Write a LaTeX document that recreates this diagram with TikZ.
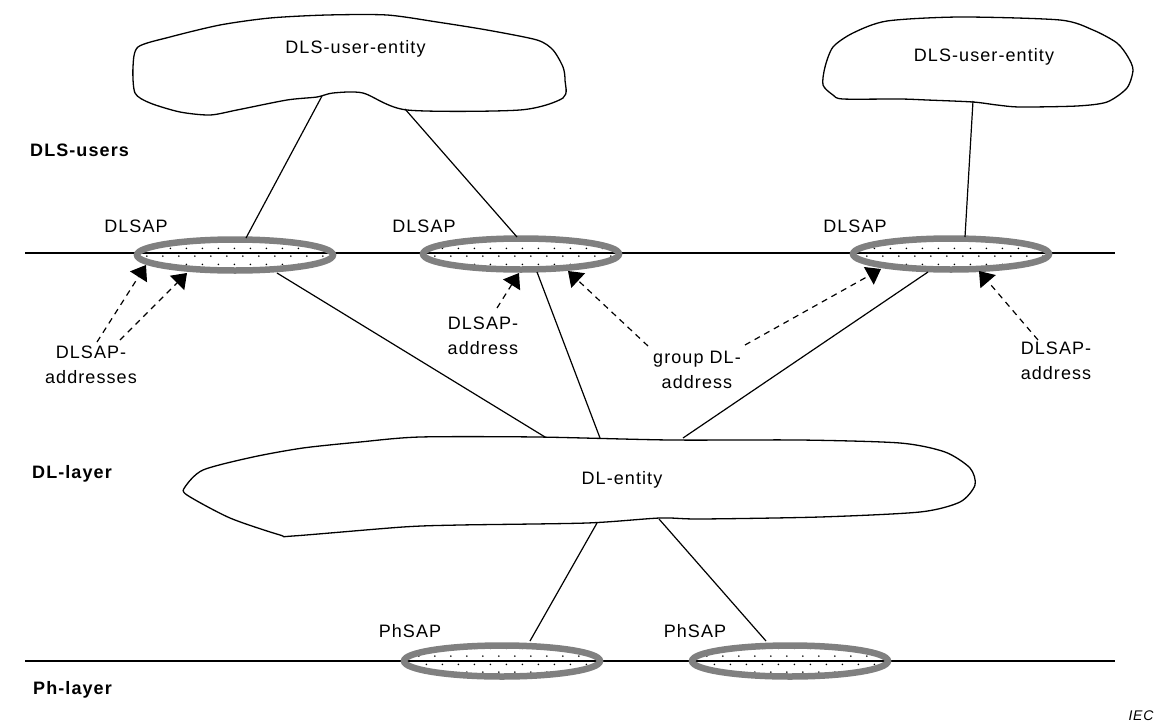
\documentclass[tikz,border=0pt]{standalone}
\usepackage{fontspec}
\setmainfont{Liberation Sans}[LetterSpace=6]
\usetikzlibrary{arrows.meta,patterns.meta,shapes.geometric}
\definecolor{sapgray}{RGB}{128,128,128}
\tikzdeclarepattern{
  name=sapdots, type=uncolored,
  bottom left={(0pt,0pt)}, top right={(16pt,16pt)},
  tile size={(16pt,16pt)},
  code={\tikzset{x=1pt,y=1pt}\fill (3,3) circle (0.95); \fill (11,11) circle (0.95);}
}
\tikzset{
  lbl/.style={font=\fontsize{18}{25}\selectfont, inner sep=0pt, text height=12.9pt, text depth=0pt},
  side/.style={lbl, font=\fontsize{18}{25}\selectfont\bfseries, anchor=west},
  multi/.style={font=\fontsize{18}{25}\selectfont, inner sep=0pt, align=center, anchor=north},
  cloudline/.style={draw, line width=1.3pt},
  sap/.style={ellipse, minimum width=196pt, minimum height=31pt, inner sep=0pt,
    draw=sapgray, line width=6.5pt, pattern=sapdots, pattern color=black},
  link/.style={line width=1.2pt},
  layerline/.style={line width=1.5pt},
  darr/.style={line width=1.2pt, dash pattern=on 6pt off 5pt,
    -{Triangle[length=14pt,width=20pt]}},
}
\begin{document}
\begin{tikzpicture}[x=1pt,y=-1pt]
\useasboundingbox (0,0) rectangle (1162,723);

% layer lines
\coordinate (tl) at (25,253);
\coordinate (tr) at (1115,253);
\coordinate (bl) at (25,661);
\coordinate (br) at (1115,661);
\draw[layerline] (tl) -- (tr);
\draw[layerline] (bl) -- (br);

% clouds
\draw[cloudline] plot[smooth cycle, tension=0.45] coordinates {
  (133,67) (138,47) (170,37) (220,25) (270,18) (327,15) (387,15) (437,22)
  (487,30) (537,40) (553,50) (563,67) (565,80) (563,98) (520,110) (407,110)
  (363,93) (333,93) (317,97) (287,100) (237,110) (210,115) (180,112) (150,103) (135,93)};
\draw[cloudline] plot[smooth cycle, tension=0.45] coordinates {
  (825,67) (833,47) (853,33) (887,21) (960,17) (1060,20) (1093,30) (1117,43)
  (1128,57) (1133,70) (1127,88) (1107,102) (1077,106) (1020,107) (997,105)
  (973,102) (927,100) (900,99) (843,99) (833,95) (823,85)};
\draw[cloudline] plot[smooth cycle, tension=0.45] coordinates {
  (185,487) (203,470) (253,457) (303,448) (360,442) (420,437) (537,437)
  (670,440) (800,440) (900,443) (945,452) (970,468) (975,485) (960,502)
  (920,512) (820,517) (700,519) (660,518) (587,523) (460,525) (403,527)
  (293,536) (280,535) (230,518) (187,495)};

\node[lbl] (u1) at (355.5,47.5) {DLS-user-entity};
\node[lbl] (u2) at (984,55) {DLS-user-entity};
\node[lbl] (dle) at (622,478) {DL-entity};

% SAP ellipses
\node[sap] (e1) at (235,255) {};
\node[sap] (e2) at (521,254) {};
\node[sap] (e3) at (951,254) {};
\node[sap] (p1) at (502,661) {};
\node[sap] (p2) at (790,661) {};

% SAP labels
\node[lbl] (le1) at (136,226) {DLSAP};
\node[lbl] (le2) at (424,226) {DLSAP};
\node[lbl] (le3) at (855,226) {DLSAP};
\node[lbl] (lp1) at (410,631.5) {PhSAP};
\node[lbl] (lp2) at (695,631.5) {PhSAP};

% side labels
\node[side] (s1) at (30,150) {DLS-users};
\node[side] (s2) at (32,472) {DL-layer};
\node[side] (s3) at (33,688) {Ph-layer};

% connection points
\coordinate (u1a) at (322,96);
\coordinate (u1b) at (405,109);
\coordinate (u2a) at (973,101);
\coordinate (e1t) at (246,238);
\coordinate (e2t) at (517,237);
\coordinate (e3t) at (965,237);
\coordinate (e1b) at (277,273);
\coordinate (e2b) at (537,272);
\coordinate (e3b) at (928,272);
\coordinate (d1) at (545,437);
\coordinate (d2) at (600,438);
\coordinate (d3) at (683,438);
\coordinate (d4) at (597,523);
\coordinate (d5) at (659,519);
\coordinate (p1t) at (530,641);
\coordinate (p2t) at (766,641);

\draw[link] (u1a) -- (e1t);
\draw[link] (u1b) -- (e2t);
\draw[link] (u2a) -- (e3t);
\draw[link] (e1b) -- (d1);
\draw[link] (e2b) -- (d2);
\draw[link] (e3b) -- (d3);
\draw[link] (d4) -- (p1t);
\draw[link] (d5) -- (p2t);

% address labels
\node[multi] (a1) at (91,346) {DLSAP-\\addresses};
\node[multi] (a2) at (483,317) {DLSAP-\\address};
\node[multi] (a3) at (697,351) {group DL-\\address};
\node[multi] (a4) at (1056,342) {DLSAP-\\address};

% dashed arrows
\coordinate (a1s) at (97,342);
\coordinate (a1e) at (146,265);
\coordinate (a1s2) at (120,340);
\coordinate (a1e2) at (187,273);
\coordinate (a2s) at (497,308);
\coordinate (a2e) at (519,273);
\coordinate (a3s) at (648,346);
\coordinate (a3e) at (568,271);
\coordinate (a3s2) at (745,345);
\coordinate (a3e2) at (881,269);
\coordinate (a4s) at (1038,340);
\coordinate (a4e) at (979,271);
\draw[darr] (a1s) -- (a1e);
\draw[darr] (a1s2) -- (a1e2);
\draw[darr] (a2s) -- (a2e);
\draw[darr] (a3s) -- (a3e);
\draw[darr] (a3s2) -- (a3e2);
\draw[darr] (a4s) -- (a4e);

\node[font=\fontsize{14}{16}\selectfont\itshape, inner sep=0pt] (iec) at (1141,716) {IEC};
\end{tikzpicture}
\end{document}
